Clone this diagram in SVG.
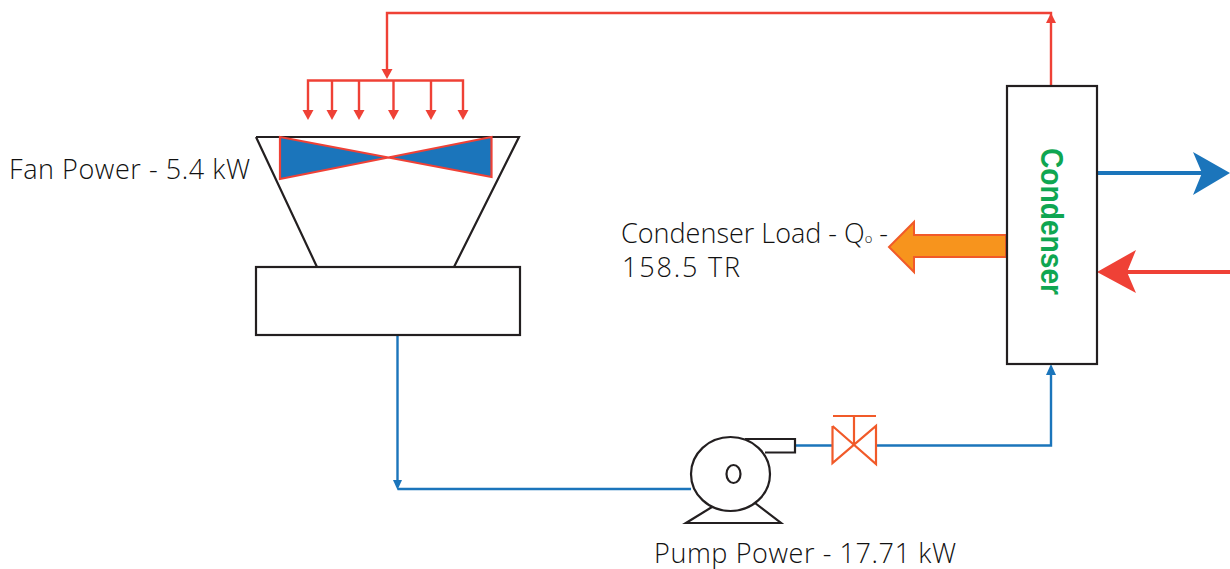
<svg xmlns="http://www.w3.org/2000/svg" width="1230" height="569" viewBox="0 0 1230 569">
<style>
.k{fill:none;stroke:#231f20;stroke-width:2.2}
.r{fill:none;stroke:#ef4136;stroke-width:2.400}
.b{fill:none;stroke:#1b75bb;stroke-width:2.400}
.h{fill:#ef4136}
.v{fill:none;stroke:#f15a29;stroke-width:2.200}
.t{font-family:"Open Sans","Noto Sans",sans-serif;font-weight:300;font-size:27px;fill:#111}
</style>
<defs>
<path id="d" d="M-5.500 -10H5.500L0 0Z" class="h"/>
</defs>
<rect width="1230" height="569" fill="#fff"/>
<g id="connectors">
<path class="r" d="M1051 86V13H387V70"/>
<path d="M1046 23H1056L1051 13Z" class="h"/>
<use href="#d" x="387" y="79"/>
<path class="r" d="M308 112V80.500H463V112M332 80.500V112M359 80.500V112M393.500 80.500V112M431 80.500V112"/>
<use href="#d" x="308" y="120"/><use href="#d" x="332" y="120"/><use href="#d" x="359" y="120"/><use href="#d" x="393.500" y="120"/><use href="#d" x="431" y="120"/><use href="#d" x="463" y="120"/>
<path class="b" d="M397.500 335V482M397.500 489H691M795 445.500H832M876 445.500H1051V372"/>
<path d="M393 480H402L397.500 490Z" fill="#1b75bb"/>
<path d="M1046 375H1056L1051 364Z" fill="#1b75bb"/>
<path d="M1097 173H1205" fill="none" stroke="#1b75bb" stroke-width="4"/>
<path d="M1230 173L1193 152L1202 173L1193 195Z" fill="#1b75bb"/>
<path d="M1230 272H1125" fill="none" stroke="#ef4136" stroke-width="4"/>
<path d="M1097 272L1136 250L1127 272L1136 293Z" class="h"/>
<path d="M1006 235H914V222L889 247L914 272V257H1006Z" fill="#f7941d" stroke="#f15a29" stroke-width="2"/>
</g>
<g id="cooling-tower">
<path class="k" d="M256 137H519L454 267M256 137L317 267"/>
<rect class="k" x="256" y="267" width="264" height="68"/>
<path d="M280 137L491.500 177V137L280 179Z" fill="#1b75bb" stroke="#ef4136" stroke-width="2.200"/>
</g>
<g id="pump">
<path class="k" d="M745 439H795V452.500H765"/>
<ellipse class="k" cx="730.500" cy="474" rx="39.500" ry="37" fill="#fff"/>
<ellipse class="k" cx="733.500" cy="474" rx="7" ry="9"/>
<path class="k" d="M712 507L686 523H781L755 503"/>
</g>
<g id="valve">
<path class="v" d="M832.500 426V463L876 426V464L832.500 426M854 445V416M833 416H876"/>
</g>
<g id="condenser">
<rect class="k" x="1007" y="86" width="90" height="278"/>
<text transform="translate(1041 148) rotate(90)" font-family="'Liberation Sans',Arial,sans-serif" font-weight="700" font-size="32px" fill="#0fa651" textLength="147" lengthAdjust="spacingAndGlyphs">Condenser</text>
</g>
<g id="labels">
<text class="t" x="9" y="179" textLength="241">Fan Power - 5.4 kW</text>
<text class="t" x="621" y="243" textLength="267">Condenser Load - Q<tspan font-size="13px">o</tspan> -</text>
<text class="t" x="622" y="277" textLength="118">158.5 TR</text>
<text class="t" x="654" y="562.500" textLength="302">Pump Power - 17.71 kW</text>
</g>
</svg>
